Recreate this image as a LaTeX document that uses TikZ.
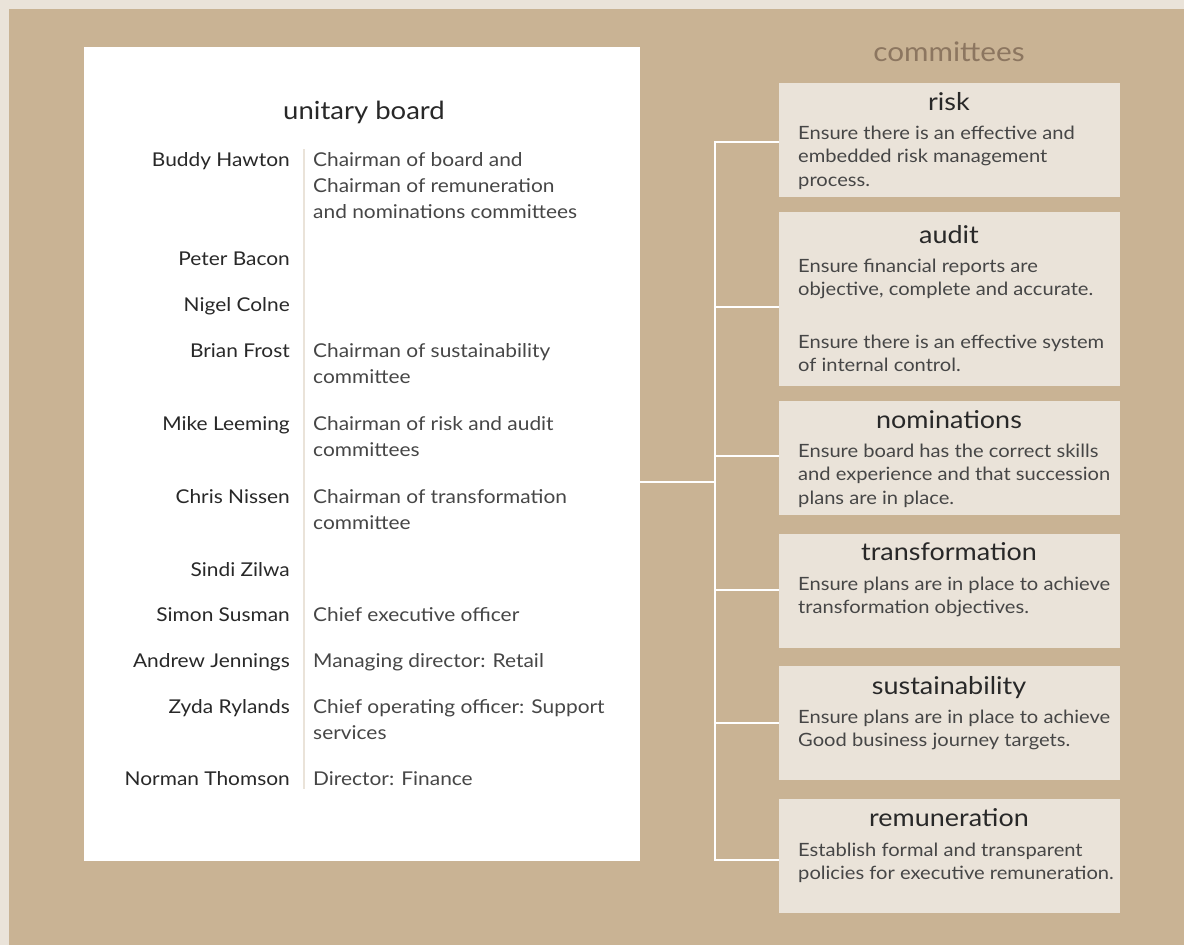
\documentclass[tikz,border=0pt]{standalone}
\usepackage{fontspec}
\setmainfont{Lato}[FakeStretch=1.1]
\definecolor{tanbg}{RGB}{201,179,148}
\definecolor{lightbg}{RGB}{234,227,217}
\definecolor{headc}{RGB}{140,118,96}
\definecolor{namec}{RGB}{40,40,40}
\definecolor{descc}{RGB}{70,70,70}
\begin{document}
\begin{tikzpicture}[x=1pt,y=-1pt,
  pname/.style={anchor=base east, inner sep=0, text=namec, font=\fontsize{19}{26}\selectfont},
  desc/.style={anchor=base west, inner sep=0, align=left, text=descc, font=\fontsize{19}{26}\selectfont},
  cbox/.style={anchor=north west, fill=lightbg, minimum width=341pt, inner sep=0, draw=none},
  ctitle/.style={anchor=base, inner sep=0, text=namec, font=\fontsize{24.5}{28}\selectfont},
  cbody/.style={anchor=base west, inner sep=0, align=left, text=descc, font=\fontsize{18.3}{23.5}\selectfont},
  conn/.style={draw=white, line width=2pt},
  sep/.style={draw=lightbg, line width=2pt}
]
\useasboundingbox (0,0) rectangle (1184,945);
\fill[lightbg] (0,0) rectangle (1184,945);
\fill[tanbg] (9,9) rectangle (1184,945);

% board
\node[anchor=north west, fill=white, minimum width=556pt, minimum height=814pt, inner sep=0] (board) at (84,47) {};
\node[anchor=base, inner sep=0, text=namec, font=\fontsize{25}{28}\selectfont] (btitle) at (364,119) {unitary board};
\coordinate (septop) at (304,149);
\coordinate (sepbot) at (304,789);
\draw[sep] (septop) -- (sepbot);

% (multi-line nodes: base anchor = baseline of the last line)
\node[pname] (n1) at (290,166) {Buddy Hawton};
\node[desc] (d1) at (313,218) {Chairman of board and\\Chairman of remuneration\\and nominations committees};
\node[pname] (n2) at (290,265) {Peter Bacon};
\node[pname] (n3) at (290,311) {Nigel Colne};
\node[pname] (n4) at (290,357) {Brian Frost};
\node[desc] (d4) at (313,383) {Chairman of sustainability\\committee};
\node[pname] (n5) at (290,430) {Mike Leeming};
\node[desc] (d5) at (313,456) {Chairman of risk and audit\\committees};
\node[pname] (n6) at (290,503) {Chris Nissen};
\node[desc] (d6) at (313,529) {Chairman of transformation\\committee};
\node[pname] (n7) at (290,576) {Sindi Zilwa};
\node[pname] (n8) at (290,621) {Simon Susman};
\node[desc] (d8) at (313,621) {Chief executive officer};
\node[pname] (n9) at (290,667) {Andrew Jennings};
\node[desc] (d9) at (313,667) {Managing director: Retail};
\node[pname] (n10) at (290,713) {Zyda Rylands};
\node[desc] (d10) at (313,739) {Chief operating officer: Support\\services};
\node[pname] (n11) at (290,785) {Norman Thomson};
\node[desc] (d11) at (313,785) {Director: Finance};

% committees
\node[anchor=base, inner sep=0, text=headc, font=\fontsize{27}{30}\selectfont] (chead) at (949,61) {committees};

\node[cbox, minimum height=114pt] (risk) at (779,83) {};
\node[ctitle] (trisk) at (949,110) {risk};
\node[cbody] (brisk) at (798,186) {Ensure there is an effective and\\embedded risk management\\process.};

\node[cbox, minimum height=174pt] (audit) at (779,212) {};
\node[ctitle] (taudit) at (949,243) {audit};
\node[cbody] (baudit) at (798,295.5) {Ensure financial reports are\\objective, complete and accurate.};
\node[cbody] (baudit2) at (798,371.5) {Ensure there is an effective system\\of internal control.};

\node[cbox, minimum height=114pt] (nom) at (779,401) {};
\node[ctitle] (tnom) at (949,428) {nominations};
\node[cbody] (bnom) at (798,504) {Ensure board has the correct skills\\and experience and that succession\\plans are in place.};

\node[cbox, minimum height=114pt] (trans) at (779,534) {};
\node[ctitle] (ttrans) at (949,560) {transformation};
\node[cbody] (btrans) at (798,613.5) {Ensure plans are in place to achieve\\transformation objectives.};

\node[cbox, minimum height=114pt] (sust) at (779,666) {};
\node[ctitle] (tsust) at (949,694) {sustainability};
\node[cbody] (bsust) at (798,746.5) {Ensure plans are in place to achieve\\Good business journey targets.};

\node[cbox, minimum height=114pt] (rem) at (779,799) {};
\node[ctitle] (trem) at (949,826) {remuneration};
\node[cbody] (brem) at (798,879.5) {Establish formal and transparent\\policies for executive remuneration.};

% connectors
\coordinate (hub) at (715,482);
\coordinate (t1) at (715,142);
\coordinate (t2) at (715,307);
\coordinate (t3) at (715,456);
\coordinate (t4) at (715,590);
\coordinate (t5) at (715,723);
\coordinate (t6) at (715,860);
\draw[conn] (board.east |- hub) -- (hub);
\draw[conn, line join=miter] (t1 -| risk.west) -- (t1) -- (t6) -- (t6 -| rem.west);
\draw[conn] (t2) -- (t2 -| audit.west);
\draw[conn] (t3) -- (t3 -| nom.west);
\draw[conn] (t4) -- (t4 -| trans.west);
\draw[conn] (t5) -- (t5 -| sust.west);
\end{tikzpicture}
\end{document}
